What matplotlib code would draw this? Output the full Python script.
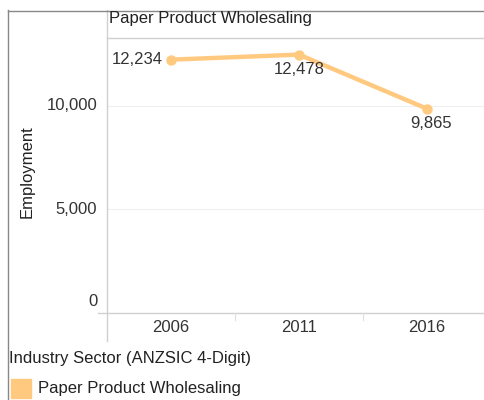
import matplotlib
matplotlib.use("Agg")
import matplotlib.pyplot as plt
from matplotlib.lines import Line2D
from matplotlib.patches import Rectangle
from matplotlib.transforms import offset_copy

plt.rcParams['font.family'] = ['Liberation Sans', 'DejaVu Sans']

years = ["2006", "2011", "2016"]
employment = [12234, 12478, 9865]
y_ticks = [0, 5000, 10000]
y_tick_labels = ["0", "5,000", "10,000"]
series_name = "Paper Product Wholesaling"
legend_title = "Industry Sector (ANZSIC 4-Digit)"
y_label = "Employment"

W, H = 485, 400
fig = plt.figure(figsize=(W / 100, H / 100), dpi=100)

def fx(px):
    return px / W

def fy(py):
    return 1 - py / H

color = "#FFCA80"
fs = 12
tcol = "#333333"

# axes: left x=107, right 491, top y=38, bottom y=313
ax = fig.add_axes([fx(107), fy(313), fx(491) - fx(107), fy(38) - fy(313)])
x = list(range(len(years)))
ax.plot(x, employment, color=color, lw=3.2, marker="o", ms=6.5, solid_capstyle="round", zorder=3)
ax.set_xlim(-0.5, 2.5)
ax.set_ylim(0, 13280)
ax.set_xticks([])
ax.set_yticks([])
for s in ["top", "right", "bottom", "left"]:
    ax.spines[s].set_visible(False)
for t in y_ticks[1:]:
    ax.axhline(t, color="#efefef", lw=0.8, zorder=1)

# y tick labels (Tableau lifts the zero label above the baseline)
ytrans = ax.get_yaxis_transform()
for t, lab in zip(y_ticks, y_tick_labels):
    dy = 8 if t == 0 else 0
    tr = offset_copy(ytrans, fig=fig, x=-7, y=dy, units="points")
    ax.text(0, t, lab, transform=tr, ha="right", va="center", fontsize=fs, color=tcol)

# value labels
offsets = [(-6, 0, "right", "center"), (0, -5.5, "center", "top"), (3, -5.5, "center", "top")]
for i, v in enumerate(employment):
    dx, dy, ha, va = offsets[i]
    ax.annotate(f"{v:,}", (x[i], v), xytext=(dx, dy), textcoords="offset points",
                ha=ha, va=va, fontsize=fs, color=tcol)

# x labels
for i, yr in enumerate(years):
    fig.text(fx(171 + 128 * i), fy(327), yr, ha="center", va="center", fontsize=fs, color=tcol)

# zero line
fig.add_artist(Line2D([fx(98), 1], [fy(313), fy(313)], color="#d0d0d0", lw=1.0))
# divider ticks on x axis
for i in range(1, len(years)):
    fig.add_artist(Line2D([fx(107 + 128 * i)] * 2, [fy(313), fy(320)], color="#e0e0e0", lw=0.8))

# vertical axis line
fig.add_artist(Line2D([fx(107.5)] * 2, [fy(10), fy(341)], color="#d0d0d0", lw=1.0))
# header line
fig.add_artist(Line2D([fx(107), 1], [fy(38), fy(38)], color="#d0d0d0", lw=1.0))
# outer frame
fig.add_artist(Line2D([fx(8.5)] * 2, [fy(10), 0], color="#888888", lw=1.0))
fig.add_artist(Line2D([fx(8), 1], [fy(10.5), fy(10.5)], color="#888888", lw=1.0))

# header text
fig.text(fx(109), fy(18), series_name, ha="left", va="center", fontsize=fs, color="#222222")

# y label
fig.text(fx(27), fy(172), y_label, rotation=90, ha="center", va="center", fontsize=fs, color="#222222")

# legend
fig.text(fx(9), fy(358), legend_title, ha="left", va="center", fontsize=fs, color="#222222")
fig.add_artist(Rectangle((fx(11), fy(398)), fx(20), fy(379) - fy(398), color=color,
                         transform=fig.transFigure))
fig.text(fx(38), fy(389), series_name, ha="left", va="center", fontsize=fs, color="#222222")

fig.savefig("out.png", dpi=100)
